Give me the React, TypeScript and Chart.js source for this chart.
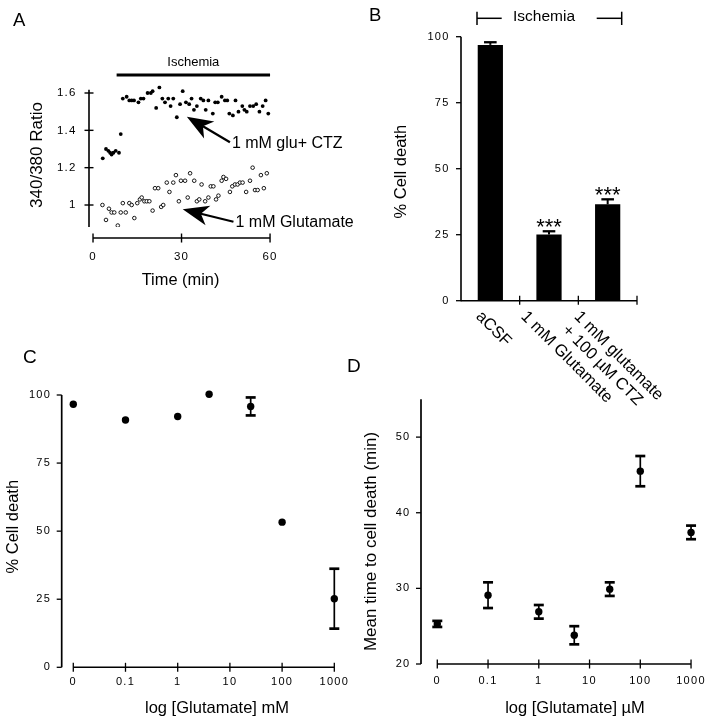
import React, { useEffect, useRef } from "react";
import { Chart, registerables } from "chart.js";

Chart.register(...registerables);

const FONT = '"Liberation Sans", Arial, Helvetica, sans-serif';
const W = 714;
const H = 720;

// ---------------- Panel A data ----------------
const aCtzTime = [3.3, 4.4, 5.2, 5.8, 6.3, 6.9, 7.7, 8.8, 9.4, 10.1, 11.4, 12.3, 13.1, 13.9, 15.4, 16.2, 17.1, 18.5, 19.6, 20.2, 21.4, 22.5, 23.5, 24.4, 25.5, 26.3, 27.2, 28.4, 29.5, 30.4, 31.5, 32.6, 33.4, 34.2, 35.2, 36.5, 37.4, 38.2, 39.1, 40.6, 41.4, 42.3, 43.6, 44.7, 45.5, 46.2, 47.4, 48.3, 49.3, 50.6, 51.3, 52.1, 53.2, 54.3, 55.3, 56.4, 57.5, 58.5, 59.4];
const aCtzRatio = [1.25, 1.30, 1.29, 1.28, 1.27, 1.28, 1.29, 1.28, 1.38, 1.57, 1.58, 1.56, 1.56, 1.56, 1.55, 1.57, 1.57, 1.60, 1.60, 1.61, 1.52, 1.63, 1.57, 1.55, 1.57, 1.53, 1.57, 1.47, 1.54, 1.61, 1.55, 1.54, 1.57, 1.51, 1.53, 1.57, 1.56, 1.51, 1.56, 1.49, 1.55, 1.55, 1.58, 1.56, 1.56, 1.49, 1.48, 1.56, 1.50, 1.53, 1.51, 1.50, 1.53, 1.53, 1.54, 1.50, 1.53, 1.56, 1.49];
const aGluTime = [3.2, 4.4, 5.4, 6.3, 7.2, 8.4, 9.4, 10.1, 11.1, 12.3, 13.1, 14.0, 15.0, 15.9, 16.5, 17.4, 18.2, 19.1, 20.2, 21.0, 22.1, 23.1, 23.8, 25.0, 25.9, 27.2, 28.1, 29.1, 29.8, 31.2, 32.1, 32.9, 34.3, 35.2, 36.0, 36.8, 38.0, 39.1, 39.9, 40.8, 41.7, 42.5, 43.6, 44.2, 45.1, 46.4, 47.2, 48.1, 49.0, 49.8, 50.7, 51.9, 53.2, 54.1, 54.9, 55.8, 56.9, 57.9, 58.9];
const aGluRatio = [1.00, 0.92, 0.98, 0.96, 0.96, 0.89, 0.96, 1.01, 0.96, 1.01, 1.00, 0.93, 1.01, 1.03, 1.04, 1.02, 1.02, 1.02, 0.97, 1.09, 1.09, 0.99, 1.00, 1.12, 1.07, 1.12, 1.16, 1.02, 1.13, 1.13, 1.04, 1.17, 1.13, 1.02, 1.03, 1.11, 1.02, 1.04, 1.10, 1.10, 1.03, 1.05, 1.13, 1.15, 1.14, 1.07, 1.10, 1.11, 1.11, 1.12, 1.12, 1.07, 1.13, 1.20, 1.08, 1.08, 1.16, 1.09, 1.17];
const aYTicks = [1, 1.2, 1.4, 1.6];
const aXTicks = [0, 30, 60];
const aIschemia = [8, 60];
const aArrowLabels = ["1 mM glu+ CTZ", "1 mM Glutamate"];
const aArrowTip = [[31.8, 1.473], [30.4, 0.977]];
const aArrowTail = [[46.4, 1.336], [47.6, 0.91]];

// ---------------- Panel B data ----------------
const bCategories = [["aCSF"], ["1 mM Glutamate"], ["1 mM glutamate", "+ 100 \u00B5M CTZ"]];
const bValues = [96.9, 25.1, 36.5];
const bErrors = [1.0, 1.2, 1.9];
const bSignif = ["", "***", "***"];
const bYTicks = [0, 25, 50, 75, 100];

// ---------------- Panel C data ----------------
const logTickLabels = ["0", "0.1", "1", "10", "100", "1000"];
const cConc = [0, 0.1, 1, 4, 25, 100, 1000];
const cDeath = [96.6, 90.8, 92.1, 100.3, 95.8, 53.3, 25.2];
const cErr = [0, 0, 0, 0, 3.3, 0, 11];
const cYTicks = [0, 25, 50, 75, 100];

// ---------------- Panel D data ----------------
const dConc = [0, 0.1, 1, 5, 25, 100, 1000];
const dTime = [25.3, 29.1, 26.9, 23.8, 29.9, 45.5, 37.4];
const dErr = [0.4, 1.7, 0.9, 1.2, 0.9, 2.0, 0.9];
const dYTicks = [20, 30, 40, 50];

// concentration -> position on the evenly spaced log axis (0 sits one decade below 0.1)
const logPos = (c: number) => (c === 0 ? 0 : Math.log10(c) + 2);

type Ctx = CanvasRenderingContext2D;

function seg(ctx: Ctx, x1: number, y1: number, x2: number, y2: number, w: number) {
  ctx.beginPath();
  ctx.lineWidth = w;
  ctx.moveTo(x1, y1);
  ctx.lineTo(x2, y2);
  ctx.stroke();
}

function txt(ctx: Ctx, s: string, x: number, y: number, size: number, align: CanvasTextAlign = "center", baseline: CanvasTextBaseline = "middle", spacing = "0px") {
  ctx.font = `${size}px ${FONT}`;
  ctx.textAlign = align;
  ctx.textBaseline = baseline;
  (ctx as any).letterSpacing = spacing;
  ctx.fillText(s, x, y);
}

function vtxt(ctx: Ctx, s: string, x: number, y: number, size: number) {
  ctx.save();
  ctx.translate(x, y);
  ctx.rotate(-Math.PI / 2);
  txt(ctx, s, 0, 0, size);
  ctx.restore();
}

function arrow(ctx: Ctx, tipX: number, tipY: number, tailX: number, tailY: number) {
  const ang = Math.atan2(tipY - tailY, tipX - tailX);
  const ux = Math.cos(ang), uy = Math.sin(ang);
  const px = -uy, py = ux;
  const len = 26, hw = 10;
  const bx = tipX - ux * len, by = tipY - uy * len;
  const nx = tipX - ux * len * 0.72, ny = tipY - uy * len * 0.72;
  seg(ctx, tailX, tailY, nx, ny, 2.2);
  ctx.beginPath();
  ctx.moveTo(tipX, tipY);
  ctx.lineTo(bx + px * hw, by + py * hw);
  ctx.lineTo(nx, ny);
  ctx.lineTo(bx - px * hw, by - py * hw);
  ctx.closePath();
  ctx.fill();
}

function errBar(ctx: Ctx, x: number, yLo: number, yHi: number, capHalf: number, lw: number, capLw: number, lower = true) {
  seg(ctx, x, yLo, x, yHi, lw);
  seg(ctx, x - capHalf, yHi, x + capHalf, yHi, capLw);
  if (lower) seg(ctx, x - capHalf, yLo, x + capHalf, yLo, capLw);
}

// chart area l,t,r,b in page pixels; the y axis box fills everything left of it, the x axis box everything below it
function baseOptions(l: number, t: number, r: number, b: number, xShown: boolean): any {
  return {
    responsive: false,
    maintainAspectRatio: false,
    animation: false,
    devicePixelRatio: 1,
    events: [],
    layout: { autoPadding: false, padding: { left: 0, top: t, right: W - r, bottom: xShown ? 0 : H - b } },
    plugins: { legend: { display: false }, tooltip: { enabled: false }, title: { display: false } },
  };
}

const setTicks = (vals: number[]) => (s: any) => { s.ticks = vals.map((v) => ({ value: v })); };

function linAxis(min: number, max: number, vals: number[], horizontal: boolean, boxSize: number, pad: number, size: number, labels?: string[]): any {
  return {
    type: "linear",
    min,
    max,
    bounds: "data",
    afterFit: (s: any) => { if (horizontal) s.height = boxSize; else s.width = boxSize; },
    afterBuildTicks: setTicks(vals),
    grid: { display: false, drawTicks: false },
    border: { display: false },
    ticks: {
      color: "#000",
      padding: pad,
      autoSkip: false,
      maxRotation: 0,
      minRotation: 0,
      font: { family: FONT, size, lineHeight: 1.2 },
      callback: (v: number) => (labels ? labels[Math.round(v)] : String(v)),
    },
  };
}

function prep(ctx: Ctx) {
  ctx.save();
  ctx.strokeStyle = "#000";
  ctx.fillStyle = "#000";
  ctx.lineCap = "butt";
  (ctx as any).letterSpacing = "0px";
}

// ---------------- Panel A ----------------
function makeA(canvas: HTMLCanvasElement) {
  const L = 89, T = 85.53, R = 273, B = 227.03;
  const plugin = {
    id: "panelA",
    beforeDraw(chart: any) { (chart.ctx as any).letterSpacing = "1.2px"; },
    afterDraw(chart: any) {
      const ctx: Ctx = chart.ctx;
      const xs = chart.scales.x, ys = chart.scales.y, ca = chart.chartArea;
      prep(ctx);
      // y axis
      const yTop = ys.getPixelForValue(1.617);
      seg(ctx, ca.left, yTop, ca.left, ca.bottom, 1.6);
      aYTicks.forEach((v) => { const y = ys.getPixelForValue(v); seg(ctx, ca.left - 4.5, y, ca.left + 4.5, y, 1.4); });
      // x axis (detached)
      const axY = ca.bottom + 11;
      const x0 = xs.getPixelForValue(aXTicks[0]), x1 = xs.getPixelForValue(aXTicks[aXTicks.length - 1]);
      seg(ctx, x0, axY, x1, axY, 1.4);
      aXTicks.forEach((t) => { const x = xs.getPixelForValue(t); seg(ctx, x, axY - 4.5, x, axY + 4.5, 1.4); });
      // ischemia bar
      const i0 = xs.getPixelForValue(aIschemia[0]), i1 = xs.getPixelForValue(aIschemia[1]);
      seg(ctx, i0, 75, i1, 75, 3);
      txt(ctx, "Ischemia", (i0 + i1) / 2, 62, 13);
      // arrows
      aArrowLabels.forEach((lab, i) => {
        const tx = xs.getPixelForValue(aArrowTip[i][0]), ty = ys.getPixelForValue(aArrowTip[i][1]);
        const sx = xs.getPixelForValue(aArrowTail[i][0]), sy = ys.getPixelForValue(aArrowTail[i][1]);
        arrow(ctx, tx, ty, sx, sy);
        txt(ctx, lab, sx + 2, sy + 1, 16, "left", "middle");
      });
      // titles
      txt(ctx, "Time (min)", (x0 + x1) / 2 - 1, 280, 16.4);
      vtxt(ctx, "340/380 Ratio", 37.5, 155, 17);
      txt(ctx, "A", 13, 26, 18.5, "left", "alphabetic");
      ctx.restore();
    },
  };
  return new Chart(canvas, {
    type: "scatter",
    data: {
      datasets: [
        { data: aCtzTime.map((t, i) => ({ x: t, y: aCtzRatio[i] })), pointRadius: 1.9, pointBackgroundColor: "#000", pointBorderColor: "#000", pointBorderWidth: 0 },
        { data: aGluTime.map((t, i) => ({ x: t, y: aGluRatio[i] })), pointRadius: 1.8, pointBackgroundColor: "#fff", pointBorderColor: "#000", pointBorderWidth: 0.9 },
      ],
    } as any,
    options: {
      ...baseOptions(L, T, R, B, true),
      scales: {
        x: linAxis(-1.36, 61, aXTicks, true, H - B, 22.6, 11.5),
        y: linAxis(0.882, 1.64, aYTicks, false, L, 12.5, 11.5),
      },
    },
    plugins: [plugin as any],
  });
}

// ---------------- Panel B ----------------
function makeB(canvas: HTMLCanvasElement) {
  const L = 461, T = 36.7, R = 637, B = 300.7;
  const shifts = [-6, -19.6, -25];
  const plugin = {
    id: "panelB",
    beforeDraw(chart: any) { (chart.ctx as any).letterSpacing = "1.2px"; },
    afterDraw(chart: any) {
      const ctx: Ctx = chart.ctx;
      const xs = chart.scales.x, ys = chart.scales.y, ca = chart.chartArea;
      prep(ctx);
      const axY = ys.getPixelForValue(0);
      // y axis
      seg(ctx, ca.left, ys.getPixelForValue(100), ca.left, axY + 0.5, 1.6);
      bYTicks.forEach((v) => { const y = ys.getPixelForValue(v); seg(ctx, ca.left - 5, y, ca.left, y, 1.3); });
      // x axis
      seg(ctx, ca.left, axY, ca.right, axY, 1.6);
      const half = (xs.getPixelForValue(1) - xs.getPixelForValue(0)) / 2;
      bCategories.forEach((_, i) => { const x = xs.getPixelForValue(i) + half; seg(ctx, x, axY - 5, x, axY + 4, 1.3); });
      // error bars & significance
      bValues.forEach((v, i) => {
        const x = xs.getPixelForValue(i);
        const yT = ys.getPixelForValue(v), yE = ys.getPixelForValue(v + bErrors[i]);
        errBar(ctx, x, yT, yE, 6.3, 2, 2.3, false);
        if (bSignif[i]) txt(ctx, bSignif[i], x, yE + 3, 22, "center", "alphabetic");
      });
      // rotated category labels
      bCategories.forEach((lines, i) => {
        const cx = xs.getPixelForValue(i);
        ctx.save();
        ctx.translate(cx + shifts[i], axY + 7.5);
        ctx.rotate(Math.PI / 4);
        lines.forEach((ln, j) => txt(ctx, ln, j * 1, j * 18.3, 16.5, "left", "top"));
        ctx.restore();
      });
      // ischemia bracket
      seg(ctx, 477, 18.3, 501.7, 18.3, 1.5);
      seg(ctx, 596.7, 18.3, 621.7, 18.3, 1.5);
      seg(ctx, 477, 11.7, 477, 25, 1.5);
      seg(ctx, 621.7, 11.7, 621.7, 25, 1.5);
      txt(ctx, "Ischemia", 544, 16.5, 15.5);
      vtxt(ctx, "% Cell death", 401, 171.7, 16.5);
      txt(ctx, "B", 369, 21, 18.5, "left", "alphabetic");
      ctx.restore();
    },
  };
  return new Chart(canvas, {
    type: "bar",
    data: {
      labels: bCategories.map((l) => l.join(" ")),
      datasets: [{ data: bValues, backgroundColor: "#000", borderWidth: 0, barPercentage: 0.43, categoryPercentage: 1 }],
    },
    options: {
      ...baseOptions(L, T, R, B, false),
      scales: {
        x: { type: "category", display: false, grid: { display: false }, offset: true },
        y: linAxis(0, 100, bYTicks, false, L, 11.5, 11),
      },
    },
    plugins: [plugin as any],
  });
}

// ---------------- Panels C & D ----------------
function makeLogPanel(canvas: HTMLCanvasElement, p: {
  id: string; conc: number[]; vals: number[]; errs: number[]; yTicks: number[]; yMin: number; yMax: number; yAxisMax: number;
  area: number[]; xMin: number; xMax: number; xPad: number; yPad: number; xTitle: string; xTitleX: number; yTitle: string; yTitleX: number; yTitleY: number; yTitleSize: number; letter: string; letterX: number; letterY: number;
}) {
  const [L, T, R, B] = p.area;
  const plugin = {
    id: p.id,
    beforeDraw(chart: any) { (chart.ctx as any).letterSpacing = "1.3px"; },
    afterDraw(chart: any) {
      const ctx: Ctx = chart.ctx;
      const xs = chart.scales.x, ys = chart.scales.y, ca = chart.chartArea;
      prep(ctx);
      const axY = ys.getPixelForValue(p.yMin);
      seg(ctx, ca.left, ys.getPixelForValue(p.yAxisMax), ca.left, axY, 1.7);
      p.yTicks.forEach((v) => { const y = ys.getPixelForValue(v); seg(ctx, ca.left - 5, y, ca.left, y, 1.3); });
      const x0 = xs.getPixelForValue(0), x1 = xs.getPixelForValue(logTickLabels.length - 1);
      seg(ctx, x0, axY, x1, axY, 1.5);
      logTickLabels.forEach((_, i) => { const x = xs.getPixelForValue(i); seg(ctx, x, axY - 4.5, x, axY + 4.5, 1.3); });
      p.vals.forEach((v, i) => {
        if (!p.errs[i]) return;
        const x = xs.getPixelForValue(logPos(p.conc[i]));
        errBar(ctx, x, ys.getPixelForValue(v - p.errs[i]), ys.getPixelForValue(v + p.errs[i]), 5, 1.7, 2.7);
      });
      txt(ctx, p.xTitle, p.xTitleX, 708, 16.5);
      vtxt(ctx, p.yTitle, p.yTitleX, p.yTitleY, p.yTitleSize);
      txt(ctx, p.letter, p.letterX, p.letterY, 19, "left", "alphabetic");
      ctx.restore();
    },
  };
  return new Chart(canvas, {
    type: "scatter",
    data: {
      datasets: [{ data: p.conc.map((c, i) => ({ x: logPos(c), y: p.vals[i] })), pointRadius: 3.7, pointBackgroundColor: "#000", pointBorderColor: "#000", pointBorderWidth: 0 }],
    } as any,
    options: {
      ...baseOptions(L, T, R, B, true),
      scales: {
        x: linAxis(p.xMin, p.xMax, logTickLabels.map((_, i) => i), true, H - B, p.xPad, 11, logTickLabels),
        y: linAxis(p.yMin, p.yMax, p.yTicks, false, L, p.yPad, 11),
      },
    },
    plugins: [plugin as any],
  });
}

function makeC(canvas: HTMLCanvasElement) {
  return makeLogPanel(canvas, {
    id: "panelC", conc: cConc, vals: cDeath, errs: cErr, yTicks: cYTicks, yMin: 0, yMax: 102, yAxisMax: 100,
    area: [61.7, 667.3 - 102 * 2.723, 340, 667.3], xMin: -0.222, xMax: 5.109, xPad: 8.5, yPad: 10.5,
    xTitle: "log [Glutamate] mM", xTitleX: 217, yTitle: "% Cell death", yTitleX: 13, yTitleY: 526.7, yTitleSize: 16.5,
    letter: "C", letterX: 23, letterY: 363,
  });
}

function makeD(canvas: HTMLCanvasElement) {
  return makeLogPanel(canvas, {
    id: "panelD", conc: dConc, vals: dTime, errs: dErr, yTicks: dYTicks, yMin: 20, yMax: 55, yAxisMax: 55,
    area: [421, 399.3, 704, 664], xMin: -0.321, xMax: 5.121, xPad: 10.5, yPad: 10.5,
    xTitle: "log [Glutamate] \u00B5M", xTitleX: 575, yTitle: "Mean time to cell death (min)", yTitleX: 371.5, yTitleY: 541.5, yTitleSize: 17,
    letter: "D", letterX: 347, letterY: 372,
  });
}

export default function App() {
  const r0 = useRef<HTMLCanvasElement>(null);
  const r1 = useRef<HTMLCanvasElement>(null);
  const r2 = useRef<HTMLCanvasElement>(null);
  const r3 = useRef<HTMLCanvasElement>(null);
  useEffect(() => {
    const charts = [makeA(r0.current!), makeB(r1.current!), makeC(r2.current!), makeD(r3.current!)];
    return () => charts.forEach((c) => c.destroy());
  }, []);
  const cs: React.CSSProperties = { position: "absolute", left: 0, top: 0, width: W, height: H };
  return (
    <div style={{ position: "absolute", left: 0, top: 0, width: W, height: H, background: "#fff", overflow: "hidden" }}>
      <canvas ref={r0} width={W} height={H} style={cs} />
      <canvas ref={r1} width={W} height={H} style={cs} />
      <canvas ref={r2} width={W} height={H} style={cs} />
      <canvas ref={r3} width={W} height={H} style={cs} />
    </div>
  );
}
